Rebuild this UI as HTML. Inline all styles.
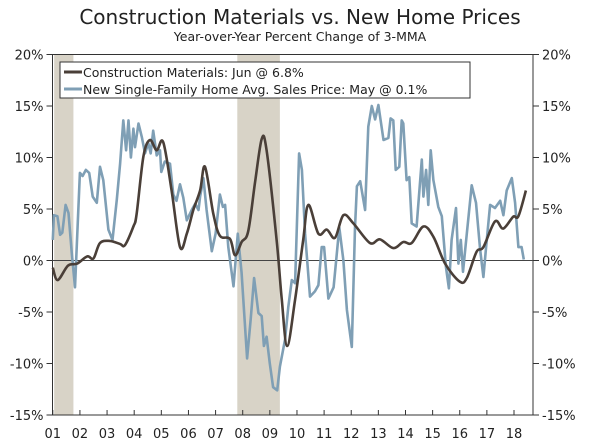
<!DOCTYPE html>
<html><head><meta charset="utf-8"><style>
body{margin:0;background:#fff;}
svg{display:block;font-family:"DejaVu Sans","Liberation Sans",sans-serif;}
</style></head><body>
<svg id="chart" width="600" height="443">
<text x="300" y="24" text-anchor="middle" font-size="20" fill="#222">Construction Materials vs. New Home Prices</text>
<text x="300" y="41" text-anchor="middle" font-size="12.5" fill="#222">Year-over-Year Percent Change of 3-MMA</text>
<g id="shade"></g><g id="axes"></g><g id="series"></g>
<g>
<rect x="60" y="62" width="410" height="36" fill="#fff" stroke="#333" stroke-width="1"/>
<line x1="64" y1="72" x2="82" y2="72" stroke="#4a3f38" stroke-width="3"/>
<text x="83" y="77" font-size="12.5" fill="#222">Construction Materials: Jun @ 6.8%</text>
<line x1="64" y1="89" x2="82" y2="89" stroke="#7f9fb5" stroke-width="3"/>
<text x="83" y="94" font-size="12.5" fill="#222">New Single-Family Home Avg. Sales Price: May @ 0.1%</text>
</g>
</svg>
<script>
const yTicks=[20,15,10,5,0,-5,-10,-15];
const xTickLabels=["01","02","03","04","05","06","07","08","09","10","11","12","13","14","15","16","17","18"];
const recessionStarts=[2001.05,2007.8];
const recessionEnds=[2001.76,2009.37];
const constructionDates=[2001.0,2001.18,2001.56,2001.9,2002.27,2002.5,2002.74,2003.1,2003.48,2003.66,2003.97,2004.09,2004.34,2004.58,2004.83,2005.07,2005.38,2005.69,2005.94,2006.18,2006.43,2006.61,2006.92,2007.16,2007.53,2007.72,2007.96,2008.2,2008.45,2008.7,2008.88,2009.25,2009.44,2009.64,2009.93,2010.23,2010.42,2010.79,2011.1,2011.4,2011.71,2012.08,2012.69,2013.06,2013.55,2013.92,2014.23,2014.66,2015.03,2015.46,2016.0,2016.26,2016.62,2016.87,2017.3,2017.6,2017.97,2018.16,2018.44];
const constructionValues=[-0.7,-1.9,-0.5,-0.3,0.4,0.2,1.7,1.9,1.6,1.5,3.3,4.5,10.1,11.7,10.7,11.5,6.8,1.3,2.6,4.9,6.8,9.1,4.5,2.4,2.1,0.5,1.8,2.8,7.5,11.8,10.7,2.0,-3.8,-8.3,-3.8,2.0,5.4,2.6,3.0,2.2,4.4,3.6,1.7,2.05,1.2,1.8,1.7,3.3,2.3,-0.3,-2.05,-1.7,0.85,1.3,3.8,3.1,4.25,4.3,6.8];
const homeDates=[2001.0,2001.04,2001.17,2001.27,2001.35,2001.47,2001.58,2001.7,2001.82,2002.0,2002.1,2002.22,2002.34,2002.47,2002.62,2002.74,2002.86,2003.05,2003.2,2003.36,2003.48,2003.6,2003.7,2003.79,2003.88,2003.97,2004.03,2004.16,2004.28,2004.4,2004.52,2004.61,2004.7,2004.83,2004.95,2005.0,2005.13,2005.32,2005.44,2005.56,2005.69,2005.81,2005.94,2006.12,2006.25,2006.37,2006.43,2006.55,2006.67,2006.86,2007.0,2007.16,2007.27,2007.35,2007.47,2007.66,2007.82,2007.96,2008.16,2008.29,2008.42,2008.58,2008.7,2008.78,2008.88,2009.0,2009.12,2009.27,2009.37,2009.56,2009.68,2009.81,2009.93,2010.08,2010.18,2010.3,2010.48,2010.66,2010.79,2010.91,2011.0,2011.16,2011.35,2011.56,2011.71,2011.84,2012.02,2012.14,2012.21,2012.33,2012.51,2012.63,2012.76,2012.88,2013.0,2013.19,2013.37,2013.45,2013.55,2013.64,2013.77,2013.86,2013.92,2014.04,2014.14,2014.23,2014.41,2014.6,2014.66,2014.76,2014.84,2014.93,2015.03,2015.21,2015.34,2015.49,2015.6,2015.7,2015.86,2015.95,2016.04,2016.12,2016.26,2016.44,2016.6,2016.75,2016.87,2016.97,2017.12,2017.3,2017.49,2017.61,2017.73,2017.92,2018.04,2018.16,2018.28,2018.36];
const homeValues=[2.0,4.4,4.3,2.5,2.7,5.4,4.6,0.7,-2.6,8.5,8.2,8.8,8.5,6.2,5.6,9.1,7.8,3.0,2.0,5.9,9.4,13.6,10.7,13.6,10.0,12.8,11.0,13.3,12.0,10.4,11.4,10.4,12.6,10.2,10.7,8.6,9.6,9.4,6.4,5.8,7.4,6.1,3.9,4.9,5.5,4.9,6.2,8.0,4.9,0.9,2.6,6.4,5.2,5.4,1.3,-2.5,2.6,-1.2,-9.5,-5.8,-1.7,-5.1,-5.4,-8.3,-7.4,-10.0,-12.3,-12.6,-10.3,-7.7,-4.5,-1.9,-2.2,10.4,8.8,2.6,-3.5,-3.0,-2.4,1.3,1.3,-3.7,-2.6,3.2,0.0,-4.8,-8.4,3.2,7.2,7.7,4.9,13.0,15.0,13.7,15.1,11.7,11.9,13.8,13.6,8.8,9.1,13.6,13.3,7.8,8.1,3.6,3.3,9.8,6.2,8.8,5.4,10.7,7.8,5.2,4.3,-0.6,-2.7,2.0,5.1,-0.3,2.0,-1.1,2.6,7.3,5.6,1.1,-1.6,1.3,5.4,5.1,5.8,4.4,6.8,8.0,5.6,1.3,1.3,0.1];

const NS="http://www.w3.org/2000/svg";
const L=52.5,R=533,T=54.5,B=415;
function xs(t){return 52.8+(t-2001)*27.13;}
function ys(v){return 260.5-v*10.3;}
function mk(tag,attrs,parent){const e=document.createElementNS(NS,tag);for(const k in attrs)e.setAttribute(k,attrs[k]);parent.appendChild(e);return e;}
const shade=document.getElementById('shade'),axes=document.getElementById('axes'),ser=document.getElementById('series');
for(let i=0;i<recessionStarts.length;i++){
  const r=mk('rect',{x:xs(recessionStarts[i]),y:T,width:xs(recessionEnds[i])-xs(recessionStarts[i]),height:B-T,fill:'#d8d3c7'},shade);
  
  
}
const frame=mk('rect',{x:L,y:T,width:R-L,height:B-T,fill:'none',stroke:'#333','stroke-width':1},axes);


const zero=mk('line',{x1:L,x2:R,y1:ys(0),y2:ys(0),stroke:'#444','stroke-width':1},axes);


yTicks.forEach(v=>{
  const y=ys(v);
  mk('line',{x1:L-6,x2:L,y1:y,y2:y,stroke:'#333'},axes);
  mk('line',{x1:R,x2:R+6,y1:y,y2:y,stroke:'#333'},axes);
  const a=mk('text',{x:L-9,y:y+5,'text-anchor':'end','font-size':13,fill:'#222'},axes);a.textContent=v+'%';
  
  
  const b=mk('text',{x:R+9,y:y+5,'font-size':13,fill:'#222'},axes);b.textContent=v+'%';
  
  
});
xTickLabels.forEach((s,i)=>{
  const x=xs(2001+i);
  mk('line',{x1:x,x2:x,y1:B-5,y2:B,stroke:'#333'},axes);
  const t=mk('text',{x:x,y:438,'text-anchor':'middle','font-size':13,fill:'#222'},axes);t.textContent=s;
  
  
});
function line(d,v){return d.map((t,i)=>(i?'L':'M')+xs(t).toFixed(1)+' '+ys(v[i]).toFixed(1)).join(' ');}
function smooth(d,v){
  const p=d.map((t,i)=>[xs(t),ys(v[i])]);
  let s='M'+p[0][0].toFixed(1)+' '+p[0][1].toFixed(1);
  for(let i=0;i<p.length-1;i++){
    const p0=p[i-1]||p[i],p1=p[i],p2=p[i+1],p3=p[i+2]||p2;
    const c1=[p1[0]+(p2[0]-p0[0])/6,p1[1]+(p2[1]-p0[1])/6];
    const c2=[p2[0]-(p3[0]-p1[0])/6,p2[1]-(p3[1]-p1[1])/6];
    s+=' C'+c1.map(n=>n.toFixed(1)).join(' ')+' '+c2.map(n=>n.toFixed(1)).join(' ')+' '+p2[0].toFixed(1)+' '+p2[1].toFixed(1);
  }
  return s;
}
const hp=mk('path',{d:line(homeDates,homeValues),fill:'none',stroke:'#7f9fb5','stroke-width':2.6,'stroke-linejoin':'round'},ser);


const cp=mk('path',{d:smooth(constructionDates,constructionValues),fill:'none',stroke:'#4a3f38','stroke-width':2.6,'stroke-linejoin':'round'},ser);


</script>
</body></html>
